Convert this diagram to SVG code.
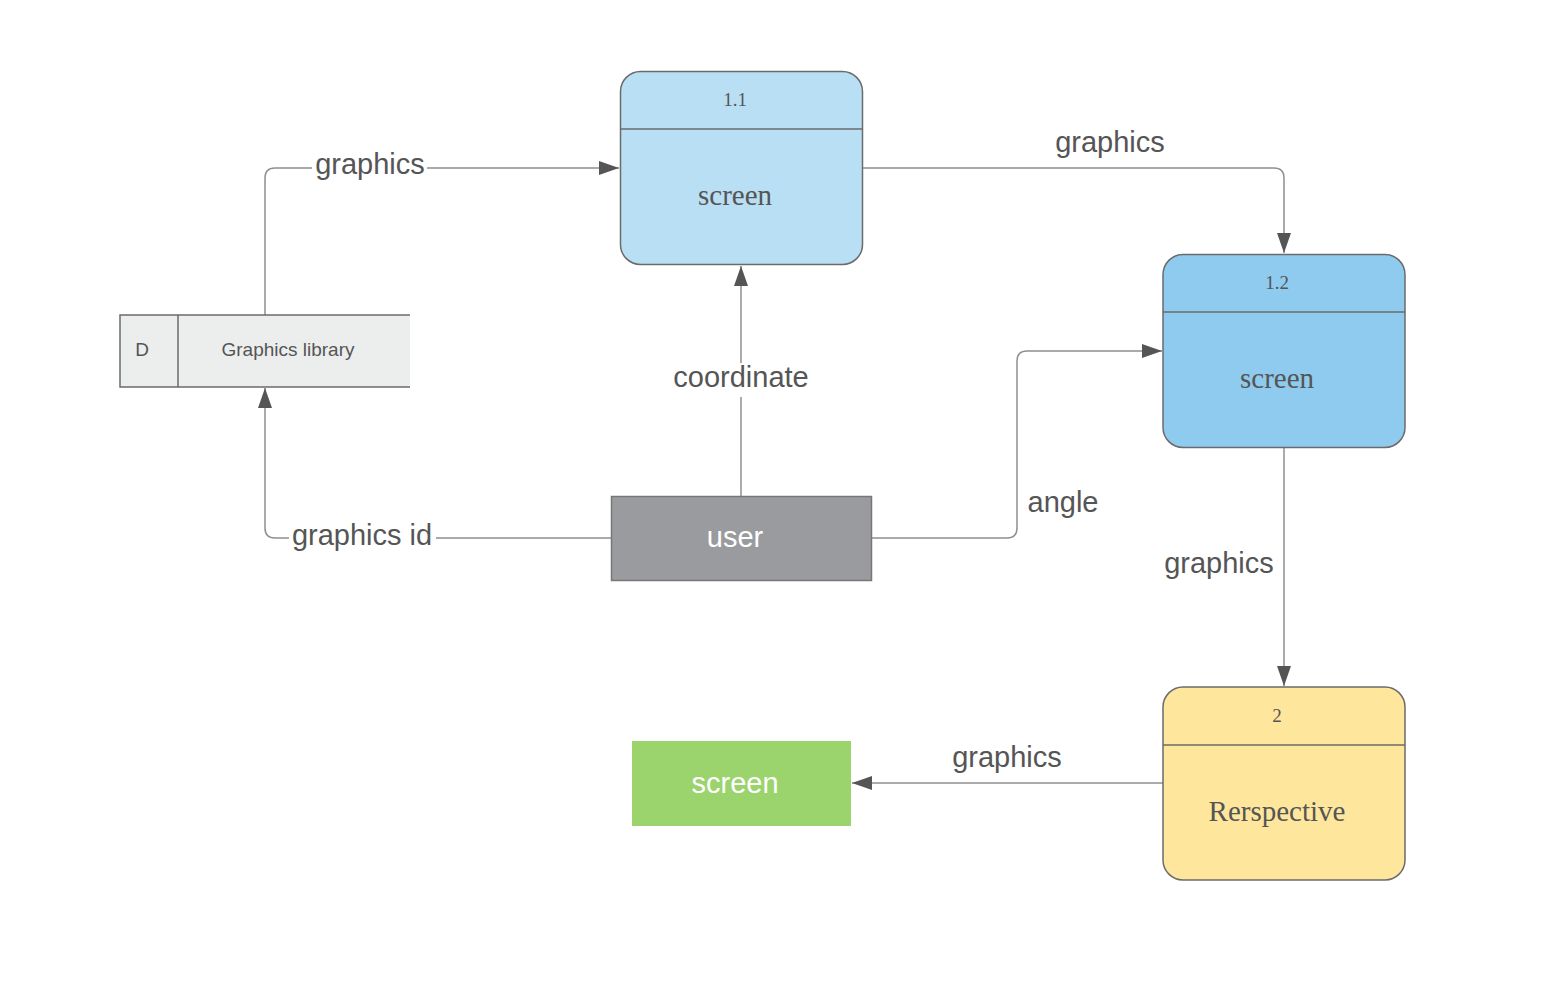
<svg xmlns="http://www.w3.org/2000/svg" width="1548" height="996" viewBox="0 0 1548 996">
<defs>
<style>
.proc{stroke:#6b6b6b;stroke-width:1.5}
.div{stroke:#6b6b6b;stroke-width:1.5;fill:none}
.num{font-family:"Liberation Serif",serif;font-size:19px;fill:#555;text-anchor:middle}
.ptxt{font-family:"Liberation Serif",serif;font-size:29px;fill:#555;text-anchor:middle}
.lbl{font-family:"Liberation Sans",Arial,sans-serif;font-size:29px;fill:#555}
.wt{font-family:"Liberation Sans",Arial,sans-serif;font-size:29px;fill:#fff;text-anchor:middle}
.ds{font-family:"Liberation Sans",Arial,sans-serif;font-size:19px;fill:#555}
.conn{fill:none;stroke:#8f8f8f;stroke-width:1.5}
.bg{fill:#fff}
</style>
<marker id="arr" viewBox="0 0 20 14" refX="20" refY="7" markerWidth="20" markerHeight="14" markerUnits="userSpaceOnUse" orient="auto">
<path d="M0,0 L20,7 L0,14 Z" fill="#555"/>
</marker>
</defs>
<rect width="1548" height="996" fill="#fff"/>

<g id="connectors">
<path class="conn" d="M265,315 V178 Q265,168 275,168 H619" marker-end="url(#arr)"/>
<path class="conn" d="M862,168 H1274 Q1284,168 1284,178 V253" marker-end="url(#arr)"/>
<path class="conn" d="M741,496 V266" marker-end="url(#arr)"/>
<path class="conn" d="M611,538 H275 Q265,538 265,528 V388" marker-end="url(#arr)"/>
<path class="conn" d="M871,538 H1007 Q1017,538 1017,528 V361 Q1017,351 1027,351 H1162" marker-end="url(#arr)"/>
<path class="conn" d="M1284,448 V686" marker-end="url(#arr)"/>
<path class="conn" d="M1163,783 H852" marker-end="url(#arr)"/>
<rect class="bg" x="312" y="150" width="115" height="30"/>
<text class="lbl" x="370" y="174" text-anchor="middle">graphics</text>
<text class="lbl" x="1110" y="152" text-anchor="middle">graphics</text>
<rect class="bg" x="670" y="363" width="143" height="34"/>
<text class="lbl" x="741" y="387" text-anchor="middle">coordinate</text>
<rect class="bg" x="289" y="521" width="147" height="32"/>
<text class="lbl" x="362" y="545" text-anchor="middle">graphics id</text>
<text class="lbl" x="1063" y="512" text-anchor="middle">angle</text>
<text class="lbl" x="1219" y="573" text-anchor="middle">graphics</text>
<text class="lbl" x="1007" y="767" text-anchor="middle">graphics</text>
</g>

<g id="node-1-1">
<rect class="proc" x="620.5" y="71.5" width="242" height="193" rx="20" fill="#b9dff5"/>
<line class="div" x1="620.5" y1="129" x2="862.5" y2="129"/>
<text class="num" x="735" y="106">1.1</text>
<text class="ptxt" x="735" y="205">screen</text>
</g>

<g id="node-1-2">
<rect class="proc" x="1163" y="254.5" width="242" height="193" rx="20" fill="#8ecbee"/>
<line class="div" x1="1163" y1="312" x2="1405" y2="312"/>
<text class="num" x="1277" y="289">1.2</text>
<text class="ptxt" x="1277" y="388">screen</text>
</g>

<g id="node-2">
<rect class="proc" x="1163" y="687" width="242" height="193" rx="20" fill="#fee79d"/>
<line class="div" x1="1163" y1="745" x2="1405" y2="745"/>
<text class="num" x="1277" y="722">2</text>
<text class="ptxt" x="1277" y="821">Rerspective</text>
</g>

<g id="datastore">
<rect x="120" y="315" width="290" height="72" fill="#eceeed"/>
<path class="div" d="M410,315 H120 V387 H410 M178,315 V387"/>
<text class="ds" x="142" y="356" text-anchor="middle">D</text>
<text class="ds" x="288" y="356" text-anchor="middle">Graphics library</text>
</g>

<g id="user">
<rect x="611.5" y="496.5" width="260" height="84" fill="#9a9b9e" stroke="#777" stroke-width="1.5"/>
<text class="wt" x="735" y="547">user</text>
</g>

<g id="screen-out">
<rect x="632" y="741" width="219" height="85" fill="#9bd36c"/>
<text class="wt" x="735" y="793">screen</text>
</g>
</svg>
